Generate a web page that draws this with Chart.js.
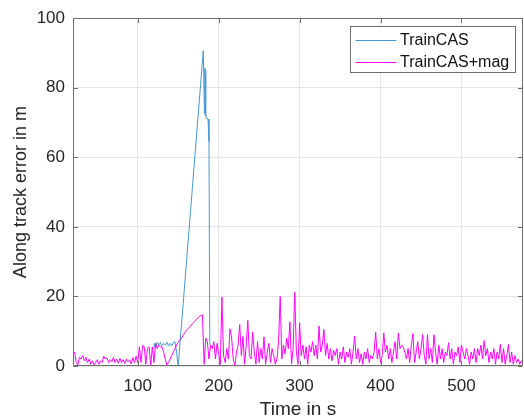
<!DOCTYPE html>
<html>
<head>
<meta charset="utf-8">
<script src="https://cdn.jsdelivr.net/npm/chart.js@4/dist/chart.umd.min.js"></script>
<style>
html,body{margin:0;padding:0;background:#fff;}
#wrap{width:524px;height:420px;position:relative;}
</style>
</head>
<body>
<div id="wrap"><canvas id="c" width="524" height="420"></canvas></div>
<script>
// ---- data ----
const seriesNames = ["TrainCAS", "TrainCAS+mag"];
const xTickVals = [100, 200, 300, 400, 500];
const yTickVals = [0, 20, 40, 60, 80, 100];
const xRange = [20, 576];
const yRange = [0, 100];

// TrainCAS (visible part)
const casTime = [120, 121, 122, 124, 126, 128, 130, 132, 134, 136, 138, 140, 142, 144, 146, 148, 150,
  181, 182.4, 183, 183.4, 183.8, 184.2, 184.6, 186.8, 188, 189, 189.3];
const casErr = [5, 6.5, 5.5, 6.8, 6, 6.8, 5.8, 6.5, 6, 6.8, 5.8, 6.5, 5.8, 6.8, 7, 4, 0,
  90.7, 72.7, 85.7, 72, 85, 72.5, 71.2, 71, 64.6, 7, 6];

// TrainCAS+mag, sampled every 2 s from 20 s to 576 s
const magStart = 20, magStep = 2;
const magErr = [
  3.5, 4, 1, 0.3, 2.5, 2, 3, 1.5, 2.5, 1,
  2, 0.5, 1.5, 0.3, 1, 1.8, 0.5, 1.5, 1, 2.8,
  2, 2.3, 1, 1.8, 1.2, 2.5, 1, 2, 0.8, 2.2,
  1, 1.8, 0.7, 2, 1.2, 1.8, 0.6, 2.4, 1, 2.8,
  1, 5.5, 1, 6, 5.5, 0.5, 5, 5.5, 0, 5.5,
  1, 6.5, 5, 6, 5.5, 5.5, 4, 2, 0.3, 1,
  2, 3, 4, 5, 6, 6.8, 7.5, 8, 8.8, 9.5,
  10.2, 10.7, 11.2, 11.8, 12.2, 12.8, 13.3, 13.8, 14.2, 14.5,
  14.7, 0.5, 8, 7, 2, 6, 5, 7, 2, 6.5,
  3.5, 0.5, 19.8, 3, 1, 5, 2, 10.7, 8, 2,
  0, 4, 6, 11.9, 3, 8.5, 0.5, 6, 13.1, 3,
  2, 9.7, 4, 0.5, 7, 1, 5, 2, 8.4, 0.5,
  4, 6.5, 1, 5, 3, 0.5, 2, 7, 20, 2,
  6, 3.5, 8, 5, 12.7, 0.5, 5, 21.2, 4, 0.5,
  12.4, 3, 6, 2, 5.5, 0.5, 6, 4, 7, 3,
  6, 2, 11.5, 4, 6, 10.5, 3, 6.5, 2, 5,
  1.5, 4.5, 3, 5, 0.5, 4, 2, 5.5, 1, 4,
  2.5, 5, 0.5, 4, 8.6, 2, 5, 1, 3.5, 0.5,
  4, 2, 5, 1, 3, 2, 4, 9.7, 2, 5,
  1, 3, 9.5, 4, 6, 2, 5, 1, 4, 7,
  2, 9.5, 5, 6, 5.5, 4, 2, 5, 1, 6,
  9.3, 1, 4, 7, 2, 5, 9, 3, 0.5, 9,
  2, 5, 1, 9, 4, 0.5, 6, 2, 5, 1,
  4, 3, 6.7, 2, 5, 0.5, 4, 3, 5.5, 1,
  6, 4, 2, 5, 3, 0.5, 4, 2, 5, 1,
  5, 3, 6, 2, 7.3, 3, 5, 1, 4, 2,
  5, 0.5, 4, 2, 6.2, 1, 5, 0.5, 3, 6.2,
  1, 4, 0.5, 3, 1, 2, 0.5, 1.5, 0.5
];

const colors = ["#4599d4", "#ff00ff"];
const FONT = "'Liberation Sans', Arial, Helvetica, sans-serif";
const TXT = "#262626";

const casPts = casTime.map((t, i) => ({x: t, y: casErr[i]}));
const magPts = magErr.map((v, i) => ({x: magStart + i * magStep, y: v}));

const boxPlugin = {
  id: 'boxPlugin',
  afterDraw(chart) {
    const ctx = chart.ctx, a = chart.chartArea;
    const xs = chart.scales.x, ys = chart.scales.y;
    ctx.save();
    ctx.strokeStyle = "#6e6e6e";
    ctx.lineWidth = 1;
    const L = Math.round(a.left) + 0.5, R = Math.round(a.right) - 0.5;
    const T = Math.round(a.top) + 0.5, B = Math.round(a.bottom) - 0.5;
    ctx.beginPath();
    ctx.moveTo(L, T); ctx.lineTo(R, T); ctx.lineTo(R, B); ctx.lineTo(L, B); ctx.closePath();
    ctx.stroke();
    // inward ticks
    const tl = 4.5;
    ctx.beginPath();
    xTickVals.forEach(v => {
      const px = Math.round(xs.getPixelForValue(v)) + 0.5;
      ctx.moveTo(px, B); ctx.lineTo(px, B - tl);
      ctx.moveTo(px, T); ctx.lineTo(px, T + tl);
    });
    yTickVals.forEach(v => {
      const py = Math.round(ys.getPixelForValue(v)) + 0.5;
      ctx.moveTo(L, py); ctx.lineTo(L + tl, py);
      ctx.moveTo(R, py); ctx.lineTo(R - tl, py);
    });
    ctx.stroke();
    // legend
    const lx = 350.5, ly = 26.5, lw = 165, lh = 46;
    ctx.fillStyle = "#fff";
    ctx.fillRect(lx, ly, lw, lh);
    ctx.strokeStyle = "#6e6e6e";
    ctx.strokeRect(lx, ly, lw, lh);
    const rows = [40, 62];
    ctx.font = "16px " + FONT;
    ctx.textBaseline = "middle";
    ctx.textAlign = "left";
    seriesNames.forEach((n, i) => {
      ctx.strokeStyle = colors[i];
      ctx.beginPath();
      ctx.moveTo(355.5, rows[i] + 0.5); ctx.lineTo(396.5, rows[i] + 0.5);
      ctx.stroke();
      ctx.fillStyle = "#111";
      ctx.fillText(n, 400, rows[i] + 1);
    });
    ctx.restore();
  }
};

new Chart(document.getElementById('c'), {
  type: 'line',
  data: {
    datasets: [
      {label: seriesNames[0], data: casPts, borderColor: colors[0], borderWidth: 1, pointRadius: 0, tension: 0, fill: false, order: 1},
      {label: seriesNames[1], data: magPts, borderColor: colors[1], borderWidth: 1, pointRadius: 0, tension: 0, fill: false, order: 0}
    ]
  },
  options: {
    responsive: false,
    animation: false,
    events: [],
    layout: {padding: {top: 16, right: 1, left: 0, bottom: 0}},
    plugins: {legend: {display: false}, tooltip: {enabled: false}},
    scales: {
      x: {
        type: 'linear', min: xRange[0], max: xRange[1],
        afterBuildTicks: s => { s.ticks = xTickVals.map(v => ({value: v})); },
        afterFit: s => { s.height = 54; },
        ticks: {autoSkip: false, maxRotation: 0, padding: 10, color: TXT, font: {family: FONT, size: 17}},
        grid: {color: "#e4e4e4", drawTicks: false},
        border: {display: false},
        title: {display: true, text: "Time in s", color: TXT, font: {family: FONT, size: 19, lineHeight: 1}, padding: {top: 0, bottom: 0.5}}
      },
      y: {
        type: 'linear', min: yRange[0], max: yRange[1],
        afterBuildTicks: s => { s.ticks = yTickVals.map(v => ({value: v})); },
        afterFit: s => { s.width = 73; },
        ticks: {padding: 8, color: TXT, font: {family: FONT, size: 17}},
        grid: {color: "#e4e4e4", drawTicks: false},
        border: {display: false},
        title: {display: true, text: "Along track error in m", color: TXT, font: {family: FONT, size: 18, lineHeight: 1.2}, padding: {top: 10, bottom: 0}}
      }
    }
  },
  plugins: [boxPlugin]
});
</script>
</body>
</html>
